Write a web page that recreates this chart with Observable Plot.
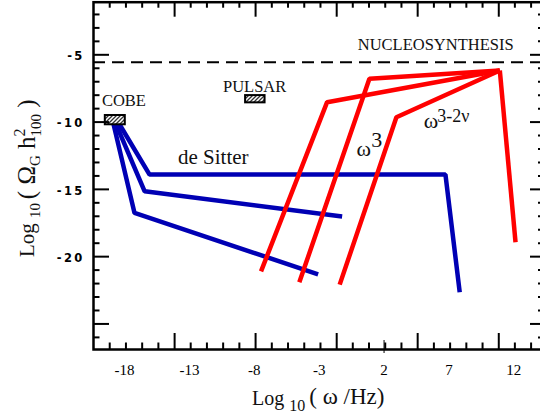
<!DOCTYPE html>
<html><head><meta charset="utf-8">
<script src="https://cdn.jsdelivr.net/npm/d3@7"></script>
<script src="https://cdn.jsdelivr.net/npm/@observablehq/plot@0.6"></script>
<style>body{margin:0;background:#fff} svg{display:block}</style>
</head><body><div id="chart"></div>
<script>
// Curves: x = log10(omega/Hz), y = log10(Omega_G h^2_100)
const deSitterX = [-18.38, -16.07, 6.73, 7.83];
const deSitterY = [-10.18, -13.90, -13.90, -22.65];
const blueMidX = [-18.64, -16.45, -1.23];
const blueMidY = [-10.18, -15.14, -17.02];
const blueLowX = [-18.84, -17.23, -3.08];
const blueLowY = [-10.18, -16.75, -21.31];
const redAX = [-7.48, -2.39, 10.92];
const redAY = [-21.09, -8.52, -6.17];
const redBX = [-4.53, 0.87, 10.92];
const redBY = [-21.91, -6.78, -6.17];
const redCX = [-1.42, 2.95, 10.92];
const redCY = [-22.08, -9.64, -6.17];
const redDX = [10.92, 12.13];
const redDY = [-6.17, -18.93];
const nucleosynthesisLimit = -5.55;

// Observational boxes
const boxNames = ["COBE", "PULSAR"];
const boxX1 = [-19.48, -8.67];
const boxX2 = [-17.94, -7.17];
const boxY1 = [-9.51, -8.03];
const boxY2 = [-10.20, -8.57];

// Annotations (data coordinates of text start / baseline)
const smallLabels = ["COBE", "PULSAR", "NUCLEOSYNTHESIS"];
const smallLabelX = [-19.74, -10.41, -0.03];
const smallLabelY = [-8.84, -7.78, -4.63];
const bigLabels = ["de Sitter"];
const bigLabelX = [-13.88];
const bigLabelY = [-13.10];
const omegaLabelX = [-0.13, 5.06];
const omegaLabelY = [-12.49, -10.41];
const supLabels = ["3", "3-2ν"];
const supLabelX = [1.02, 6.09];
const supLabelY = [-11.82, -9.96];

// Axes
const xDomain = [-20.39, 14.44];
const yDomain = [-26.9, -1.09];
const xTickLabels = [-18, -13, -8, -3, 2, 7, 12];
const yTickLabels = [-5, -10, -15, -20];
const xMajorTicks = [-14.14, -7.90, -1.65, 4.59, 10.84];
const xMinorTicks = [-19.14, -17.89, -16.64, -15.39, -12.90, -11.65, -10.40, -9.15, -6.65, -5.40, -4.15, -2.90,
  -0.41, 0.84, 2.09, 3.34, 5.84, 7.09, 8.34, 9.59, 12.08, 13.33];
const yMajorTicks = [-5, -10, -15, -20, -25];
const yMinorTicks = [-2, -3, -4, -6, -7, -8, -9, -11, -12, -13, -14, -16, -17, -18, -19, -21, -22, -23, -24, -26];

const toRows = (name, xs, ys) => xs.map((x, i) => ({name, x, y: ys[i]}));
const blueRows = [
  ...toRows("deSitter", deSitterX, deSitterY),
  ...toRows("mid", blueMidX, blueMidY),
  ...toRows("low", blueLowX, blueLowY)
];
const redRows = [
  ...toRows("A", redAX, redAY),
  ...toRows("B", redBX, redBY),
  ...toRows("C", redCX, redCY),
  ...toRows("D", redDX, redDY)
];
const boxes = boxNames.map((n, i) => ({n, x1: boxX1[i], x2: boxX2[i], y1: boxY1[i], y2: boxY2[i]}));
const small = smallLabels.map((t, i) => ({t, x: smallLabelX[i], y: smallLabelY[i]}));
const big = bigLabels.map((t, i) => ({t, x: bigLabelX[i], y: bigLabelY[i]}));
const omegas = omegaLabelX.map((x, i) => ({t: "ω", x, y: omegaLabelY[i]}));
const sups = supLabels.map((t, i) => ({t, x: supLabelX[i], y: supLabelY[i]}));

const W = 540, H = 416;
const mL = 93, mR = -5, mT = 1.7, mB = 67;
const fW = W - mL - mR, fH = H - mT - mB;
const serif = "Liberation Serif, Times New Roman, serif";

const plot = Plot.plot({
  width: W, height: H,
  marginLeft: mL, marginRight: mR, marginTop: mT, marginBottom: mB,
  style: {background: "#fff", color: "#000"},
  x: {domain: xDomain, label: null},
  y: {domain: yDomain, label: null},
  marks: [
    Plot.ruleY([nucleosynthesisLimit], {stroke: "#000", strokeWidth: 2, strokeDasharray: "12,7"}),
    Plot.line(blueRows, {x: "x", y: "y", z: "name", stroke: "#0000b4", strokeWidth: 4.5, strokeLinejoin: "miter", strokeLinecap: "butt"}),
    Plot.line(redRows, {x: "x", y: "y", z: "name", stroke: "#ff0000", strokeWidth: 4.5, strokeLinejoin: "miter", strokeLinecap: "butt"}),
    Plot.rect(boxes, {x1: "x1", x2: "x2", y1: "y1", y2: "y2", fill: "url(#hatch)", stroke: "#000", strokeWidth: 2}),
    Plot.text(small, {x: "x", y: "y", text: "t", textAnchor: "start", lineAnchor: "bottom", fontSize: 16.5, fontFamily: serif, fill: "#111"}),
    Plot.text(big, {x: "x", y: "y", text: "t", textAnchor: "start", lineAnchor: "bottom", fontSize: 21, fontFamily: serif, fill: "#111"}),
    Plot.text(omegas, {x: "x", y: "y", text: "t", textAnchor: "start", lineAnchor: "bottom", fontSize: 22, fontFamily: serif, fill: "#111"}),
    Plot.text(sups.slice(0, 1), {x: "x", y: "y", text: "t", textAnchor: "start", lineAnchor: "bottom", fontSize: 22, fontFamily: serif, fill: "#111"}),
    Plot.text(sups.slice(1), {x: "x", y: "y", text: "t", textAnchor: "start", lineAnchor: "bottom", fontSize: 18, fontFamily: serif, fill: "#111"}),
    // inward ticks: bottom / top
    Plot.ruleX(xMajorTicks, {insetTop: fH - 16, strokeWidth: 2}),
    Plot.ruleX(xMinorTicks, {insetTop: fH - 6.5, strokeWidth: 2}),
    Plot.ruleX(xMajorTicks, {insetBottom: fH - 15, strokeWidth: 2}),
    Plot.ruleX(xMinorTicks, {insetBottom: fH - 6, strokeWidth: 2}),
    Plot.ruleX([2], {insetTop: fH - 9, insetBottom: -4, strokeWidth: 1}),
    // inward ticks: left / right
    Plot.ruleY(yMajorTicks, {insetRight: fW - 16, strokeWidth: 2}),
    Plot.ruleY(yMinorTicks, {insetRight: fW - 6.5, strokeWidth: 2}),
    Plot.ruleY(yMajorTicks, {insetLeft: fW - 15, strokeWidth: 2}),
    Plot.ruleY(yMinorTicks, {insetLeft: fW - 7, strokeWidth: 2}),
    Plot.axisX(xTickLabels, {anchor: "bottom", tickSize: 0, tickPadding: 15, fontSize: 15, fontFamily: serif, tickFormat: d => String(d), label: null}),
    Plot.axisY(yTickLabels, {anchor: "left", tickSize: 0, tickPadding: 9, fontSize: 11.5, fontWeight: "bold", fontFamily: "DejaVu Sans, sans-serif", tickFormat: d => String(d), dy: 1.5, label: null}),
    Plot.frame({stroke: "#000", strokeWidth: 2.5})
  ]
});

const svg = d3.select(plot);
const defs = svg.insert("defs", ":first-child");
const pat = defs.append("pattern").attr("id", "hatch").attr("patternUnits", "userSpaceOnUse")
  .attr("width", 4).attr("height", 4);
pat.append("rect").attr("width", 4).attr("height", 4).attr("fill", "#fff");
pat.append("path").attr("d", "M-1,1 l2,-2 M0,4 l4,-4 M3,5 l2,-2").attr("stroke", "#333").attr("stroke-width", 1.3);

svg.selectAll("g[aria-label='y-axis tick label'] text").attr("letter-spacing", 2.3);

// x-axis title
const xt = svg.append("text").attr("x", 252).attr("y", 405).attr("text-anchor", "start")
  .attr("font-family", serif).attr("fill", "#111");
xt.append("tspan").attr("font-size", 20).text("Log ");
xt.append("tspan").attr("font-size", 16).attr("dy", 6).text("10 ");
xt.append("tspan").attr("font-size", 23).attr("dy", -7).text("( ω /Hz)");

// y-axis title (rotated)
const yt = svg.append("text").attr("transform", "translate(34,257) rotate(-90)").attr("text-anchor", "start")
  .attr("font-family", serif).attr("fill", "#111");
yt.append("tspan").attr("font-size", 21).text("Log ");
yt.append("tspan").attr("font-size", 15).attr("dy", 6).text("10 ");
yt.append("tspan").attr("font-size", 25).attr("dy", -5).text("( Ω");
yt.append("tspan").attr("font-size", 15).attr("dy", 5).text("G");
yt.append("tspan").attr("font-size", 25).attr("dy", -5).text(" h");
yt.append("tspan").attr("font-size", 16).attr("dy", -10).text("2");
yt.append("tspan").attr("font-size", 15).attr("dx", -8).attr("dy", 16).text("100");
yt.append("tspan").attr("font-size", 25).attr("dy", -6).text(" )");

document.getElementById("chart").appendChild(plot);
</script>
</body></html>
